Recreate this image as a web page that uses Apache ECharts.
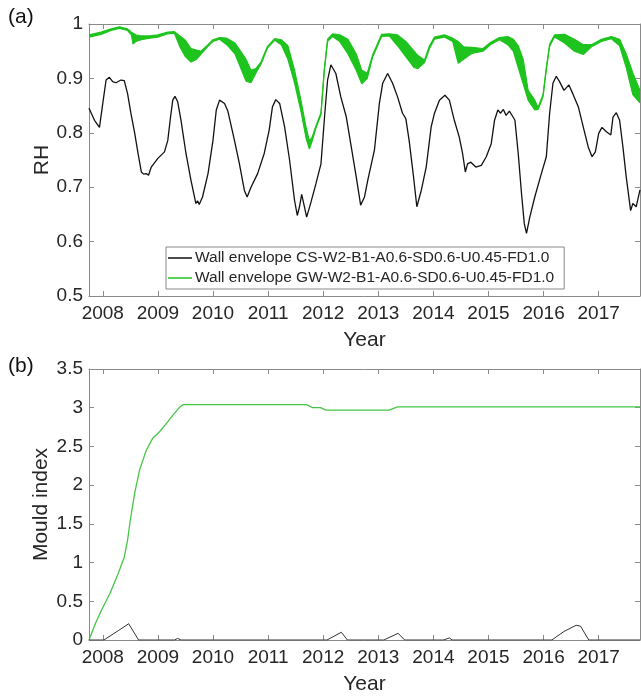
<!DOCTYPE html>
<html>
<head>
<meta charset="utf-8">
<script src="https://cdn.jsdelivr.net/npm/echarts@6/dist/echarts.min.js"></script>
<style>
html,body{margin:0;padding:0;background:#fff;}
#chart{width:641px;height:697px;}
</style>
</head>
<body>
<div id="chart"></div>
<script>
// ---- Data ----
var yearTicks = [2008, 2009, 2010, 2011, 2012, 2013, 2014, 2015, 2016, 2017];
var legendNames = ['Wall envelope CS-W2-B1-A0.6-SD0.6-U0.45-FD1.0', 'Wall envelope GW-W2-B1-A0.6-SD0.6-U0.45-FD1.0'];

// (a) RH of CS wall
var csYears = [2007.75,2007.85,2007.94,2008.00,2008.06,2008.12,2008.18,2008.24,2008.33,2008.39,2008.45,2008.51,2008.58,2008.64,2008.70,2008.74,2008.79,2008.83,2008.88,2009.00,2009.12,2009.18,2009.23,2009.27,2009.31,2009.36,2009.42,2009.51,2009.60,2009.69,2009.72,2009.75,2009.81,2009.91,2010.00,2010.06,2010.12,2010.21,2010.27,2010.39,2010.48,2010.57,2010.62,2010.69,2010.81,2010.93,2011.02,2011.08,2011.14,2011.21,2011.30,2011.39,2011.48,2011.53,2011.57,2011.61,2011.66,2011.70,2011.78,2011.87,2011.96,2012.03,2012.08,2012.14,2012.23,2012.32,2012.42,2012.51,2012.60,2012.68,2012.75,2012.81,2012.93,2013.02,2013.08,2013.17,2013.26,2013.35,2013.44,2013.50,2013.56,2013.64,2013.70,2013.78,2013.87,2013.96,2014.02,2014.11,2014.21,2014.29,2014.38,2014.47,2014.53,2014.58,2014.62,2014.68,2014.77,2014.87,2014.96,2015.05,2015.11,2015.17,2015.22,2015.27,2015.32,2015.38,2015.44,2015.48,2015.54,2015.60,2015.65,2015.69,2015.75,2015.84,2015.96,2016.05,2016.11,2016.17,2016.23,2016.29,2016.37,2016.46,2016.53,2016.63,2016.72,2016.81,2016.88,2016.94,2017.00,2017.06,2017.14,2017.22,2017.26,2017.32,2017.38,2017.44,2017.50,2017.58,2017.62,2017.68,2017.75];
var csRH = [0.845,0.823,0.810,0.854,0.897,0.902,0.894,0.892,0.897,0.896,0.872,0.836,0.799,0.762,0.728,0.724,0.725,0.722,0.737,0.753,0.765,0.786,0.829,0.860,0.867,0.857,0.823,0.762,0.713,0.670,0.675,0.668,0.682,0.725,0.786,0.842,0.860,0.854,0.840,0.786,0.743,0.694,0.682,0.700,0.725,0.762,0.805,0.848,0.861,0.854,0.811,0.750,0.676,0.648,0.664,0.687,0.664,0.645,0.673,0.707,0.743,0.836,0.897,0.925,0.909,0.866,0.829,0.774,0.719,0.667,0.682,0.713,0.768,0.854,0.891,0.909,0.891,0.866,0.836,0.826,0.786,0.719,0.664,0.694,0.737,0.811,0.836,0.860,0.869,0.860,0.823,0.792,0.762,0.728,0.743,0.746,0.737,0.740,0.756,0.780,0.823,0.842,0.836,0.843,0.832,0.840,0.830,0.823,0.762,0.688,0.633,0.615,0.645,0.682,0.725,0.756,0.836,0.891,0.904,0.894,0.878,0.888,0.872,0.848,0.811,0.774,0.756,0.765,0.799,0.810,0.802,0.796,0.829,0.837,0.823,0.774,0.719,0.657,0.670,0.664,0.695];

// (a) RH of GW wall: lower and upper edge of the daily fluctuation band
var gwYears = [2007.75,2007.97,2008.15,2008.30,2008.45,2008.52,2008.55,2008.60,2008.70,2008.85,2009.00,2009.18,2009.30,2009.40,2009.50,2009.60,2009.70,2009.78,2009.90,2010.00,2010.12,2010.25,2010.40,2010.50,2010.60,2010.69,2010.78,2010.87,2010.99,2011.12,2011.24,2011.36,2011.48,2011.60,2011.69,2011.75,2011.80,2011.87,2011.96,2012.02,2012.08,2012.17,2012.30,2012.45,2012.60,2012.70,2012.80,2012.90,2012.97,2013.06,2013.20,2013.35,2013.50,2013.65,2013.72,2013.84,2013.93,2014.02,2014.20,2014.35,2014.45,2014.55,2014.70,2014.90,2015.05,2015.20,2015.35,2015.45,2015.54,2015.63,2015.72,2015.84,2015.90,2015.99,2016.05,2016.11,2016.20,2016.38,2016.56,2016.72,2016.87,2017.05,2017.23,2017.38,2017.50,2017.62,2017.75];
var gwLow = [0.976,0.981,0.988,0.992,0.988,0.980,0.963,0.968,0.971,0.974,0.976,0.982,0.983,0.958,0.940,0.930,0.935,0.944,0.958,0.968,0.972,0.962,0.945,0.920,0.895,0.892,0.910,0.926,0.956,0.970,0.962,0.935,0.892,0.838,0.790,0.770,0.785,0.809,0.833,0.913,0.968,0.977,0.968,0.945,0.915,0.890,0.900,0.940,0.956,0.977,0.978,0.960,0.940,0.920,0.918,0.929,0.955,0.972,0.976,0.968,0.928,0.935,0.946,0.950,0.963,0.971,0.962,0.950,0.920,0.890,0.860,0.842,0.843,0.866,0.916,0.959,0.976,0.965,0.950,0.944,0.958,0.968,0.973,0.960,0.920,0.870,0.855];
var gwHigh = [0.980,0.985,0.991,0.995,0.991,0.985,0.984,0.980,0.978,0.978,0.980,0.985,0.986,0.978,0.970,0.955,0.952,0.950,0.961,0.971,0.975,0.974,0.965,0.950,0.935,0.915,0.918,0.930,0.959,0.973,0.971,0.960,0.915,0.858,0.810,0.785,0.792,0.813,0.837,0.917,0.972,0.982,0.980,0.972,0.945,0.915,0.910,0.944,0.960,0.981,0.982,0.980,0.968,0.950,0.942,0.934,0.960,0.976,0.980,0.974,0.968,0.958,0.957,0.955,0.967,0.975,0.977,0.972,0.960,0.935,0.878,0.860,0.847,0.870,0.920,0.963,0.980,0.981,0.972,0.962,0.962,0.972,0.977,0.972,0.945,0.910,0.878];

// (b) Mould index
var miCsYears = [2007.75,2008.02,2008.28,2008.47,2008.65,2009.30,2009.36,2009.42,2012.07,2012.33,2012.44,2013.10,2013.36,2013.48,2014.18,2014.29,2014.34,2016.15,2016.37,2016.59,2016.67,2016.82,2017.75];
var miCs = [0,0,0.12,0.21,0,0,0.02,0,0,0.10,0,0,0.086,0,0,0.026,0,0,0.11,0.19,0.18,0,0];
var miGwYears = [2007.75,2007.87,2007.98,2008.13,2008.28,2008.39,2008.45,2008.50,2008.58,2008.67,2008.79,2008.91,2009.03,2009.16,2009.28,2009.40,2009.46,2011.70,2011.81,2011.95,2012.05,2013.20,2013.35,2017.75];
var miGw = [0,0.22,0.39,0.60,0.86,1.07,1.29,1.55,1.90,2.20,2.45,2.61,2.69,2.80,2.91,3.01,3.04,3.04,3.00,3.00,2.97,2.97,3.01,3.01];

// ---- helpers ----
function pairs(xs, ys) { return xs.map(function (x, i) { return [x, ys[i]]; }); }
// value first, year second (so that stacking acts on the RH value)
var gwLowVY = gwYears.map(function (x, i) { return [gwLow[i], x]; });
var gwBandVY = gwYears.map(function (x, i) { return [+(gwHigh[i] - gwLow[i]).toFixed(4), x]; });

var FONT = '"Liberation Sans", Arial, sans-serif';
var AX = '#8a8a8a';
var TXT = '#262626';
var GREEN = '#1ec31e';

function xBottom(grid) {
  return {
    type: 'value', gridIndex: grid, min: 2007.75, max: 2017.75, position: 'bottom',
    name: 'Year', nameLocation: 'middle', nameGap: 34, nameMoveOverlap: false,
    nameTextStyle: { fontSize: 21, color: TXT, fontFamily: FONT },
    axisLine: { show: true, onZero: false, lineStyle: { color: AX, width: 1 } },
    axisTick: { show: true, inside: true, length: 5, lineStyle: { color: AX }, customValues: yearTicks },
    axisLabel: { show: true, fontSize: 19, color: TXT, fontFamily: FONT, margin: 8, customValues: yearTicks,
      formatter: function (v) { return String(Math.round(v)); } },
    splitLine: { show: false }
  };
}
function xTop(grid) {
  return {
    type: 'value', gridIndex: grid, min: 2007.75, max: 2017.75, position: 'top',
    axisLine: { show: true, onZero: false, lineStyle: { color: AX, width: 1 } },
    axisTick: { show: true, inside: true, length: 5, lineStyle: { color: AX }, customValues: yearTicks },
    axisLabel: { show: false }, splitLine: { show: false }
  };
}
function yLeft(grid, min, max, step, name, gap) {
  return {
    type: 'value', gridIndex: grid, min: min, max: max, interval: step, position: 'left',
    name: name, nameLocation: 'middle', nameGap: gap, nameMoveOverlap: false,
    nameTextStyle: { fontSize: 21, color: TXT, fontFamily: FONT },
    axisLine: { show: true, onZero: false, lineStyle: { color: AX, width: 1 } },
    axisTick: { show: true, inside: true, length: 5, lineStyle: { color: AX } },
    axisLabel: { show: true, fontSize: 19, color: TXT, fontFamily: FONT, margin: 6 },
    splitLine: { show: false }
  };
}
function yRight(grid, min, max, step) {
  return {
    type: 'value', gridIndex: grid, min: min, max: max, interval: step, position: 'right',
    axisLine: { show: true, onZero: false, lineStyle: { color: AX, width: 1 } },
    axisTick: { show: true, inside: true, length: 5, lineStyle: { color: AX } },
    axisLabel: { show: false }, splitLine: { show: false }
  };
}

var chart = echarts.init(document.getElementById('chart'), null, { renderer: 'canvas' });
chart.setOption({
  animation: false,
  backgroundColor: '#fff',
  textStyle: { fontFamily: FONT },
  graphic: [
    { type: 'text', left: 8, top: 7, style: { text: '(a)', fontSize: 21, fill: '#111', fontFamily: FONT } },
    { type: 'text', left: 8, top: 356, style: { text: '(b)', fontSize: 21, fill: '#111', fontFamily: FONT } }
  ],
  grid: [
    { left: 89, top: 24, right: 1, height: 272, containLabel: false },
    { left: 89, top: 369, right: 1, height: 271, containLabel: false }
  ],
  xAxis: [xBottom(0), xTop(0), xBottom(1), xTop(1)],
  yAxis: [
    yLeft(0, 0.5, 1, 0.1, 'RH', 36),
    yRight(0, 0.5, 1, 0.1),
    yLeft(1, 0, 3.5, 0.5, 'Mould index', 37),
    yRight(1, 0, 3.5, 0.5)
  ],
  legend: {
    data: legendNames,
    orient: 'vertical',
    left: 166, top: 247,
    backgroundColor: '#fff',
    borderColor: '#8a8a8a', borderWidth: 1, borderRadius: 0,
    padding: [3, 10, 3, 2],
    itemGap: 4, itemWidth: 24, itemHeight: 1.5,
    icon: 'rect',
    textStyle: { fontSize: 15.5, lineHeight: 16, color: TXT, fontFamily: FONT, padding: [0, 0, 0, -2] },
    selectedMode: false
  },
  series: [
    {
      name: legendNames[1], type: 'line', xAxisIndex: 0, yAxisIndex: 0,
      data: gwLowVY, encode: { x: 1, y: 0 }, stack: 'gw', symbol: 'none',
      lineStyle: { color: GREEN, width: 1.2 }, itemStyle: { color: GREEN }, z: 2
    },
    {
      name: 'gwBand', type: 'line', xAxisIndex: 0, yAxisIndex: 0,
      data: gwBandVY, encode: { x: 1, y: 0 }, stack: 'gw', symbol: 'none',
      lineStyle: { color: GREEN, width: 1.2 }, areaStyle: { color: GREEN, opacity: 1 }, z: 2
    },
    {
      name: legendNames[0], type: 'line', xAxisIndex: 0, yAxisIndex: 0,
      data: pairs(csYears, csRH), symbol: 'none',
      lineStyle: { color: '#111', width: 1.3 }, itemStyle: { color: '#111' }, z: 3
    },
    {
      name: 'miGw', type: 'line', xAxisIndex: 2, yAxisIndex: 2,
      data: pairs(miGwYears, miGw), symbol: 'none',
      lineStyle: { color: '#46c646', width: 1.3 }, z: 2
    },
    {
      name: 'miCs', type: 'line', xAxisIndex: 2, yAxisIndex: 2,
      data: pairs(miCsYears, miCs), symbol: 'none',
      lineStyle: { color: '#333', width: 1 }, z: 3
    }
  ]
});
</script>
</body>
</html>
